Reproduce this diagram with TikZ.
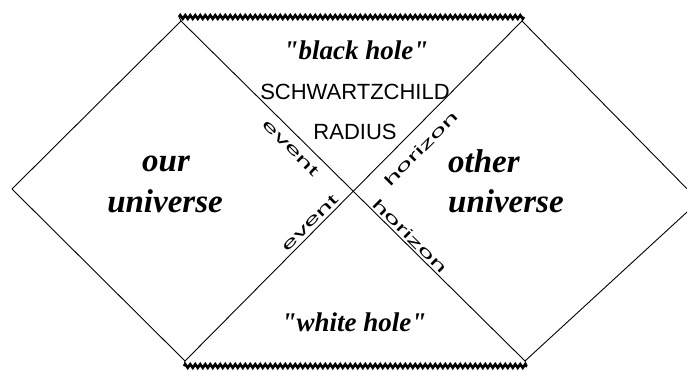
\documentclass[tikz,border=0pt]{standalone}
\usepackage{fontspec}
\setmainfont{Liberation Serif}[Ligatures=TeXOff]
\setsansfont{Liberation Sans}
\usetikzlibrary{decorations.pathmorphing}
\begin{document}
\begin{tikzpicture}[x=1pt,y=-1pt,
  edge/.style={line width=0.9pt},
  singular/.style={line width=2.6pt, decorate, decoration={zigzag,segment length=5pt,amplitude=1.8pt}},
  holelabel/.style={font=\fontsize{27}{27}\selectfont\bfseries\itshape, anchor=base, inner sep=0pt},
  regionlabel/.style={font=\fontsize{33}{33}\selectfont\bfseries\itshape, inner sep=0pt},
  capslabel/.style={font=\sffamily\fontsize{22}{22}\selectfont, anchor=base, inner sep=0pt},
  diaglabel/.style={font=\sffamily\fontsize{15}{15}\selectfont, inner sep=0pt}
]
\useasboundingbox (0,0) rectangle (687,371);
\clip (0,0) rectangle (687,371);
% corners
\coordinate (L) at (12,189);
\coordinate (TL) at (181,21);
\coordinate (TR) at (522,21);
\coordinate (R) at (699,201);
\coordinate (BL) at (185,361);
\coordinate (BR) at (525,361);
\coordinate (ZTL) at (179,17);
\coordinate (ZTR) at (524,17);
\coordinate (ZBL) at (184,366);
\coordinate (ZBR) at (527,366);
% edges
\draw[edge] (L) -- (TL);
\draw[edge] (L) -- (BL);
\draw[edge] (TL) -- (BR);
\draw[edge] (TR) -- (BL);
\draw[edge] (TR) -- (R);
\draw[edge] (BR) -- (R);
\draw[edge] (TL) -- (ZTL);
\draw[edge] (TR) -- (ZTR);
\draw[edge] (BL) -- (ZBL);
\draw[edge] (BR) -- (ZBR);
% singularities
\draw[singular] (ZTL) -- (ZTR);
\draw[singular] (ZBL) -- (ZBR);
% labels
\node[holelabel] (bh) at (356,60) {"black hole"};
\node[capslabel] (sch) at (355,100) {SCHWARTZCHILD};
\node[capslabel] (rad) at (355,140) {RADIUS};
\node[holelabel] (wh) at (354,331) {"white hole"};
\node[regionlabel, anchor=base] (our) at (166,172) {our};
\node[regionlabel, anchor=base] (ouru) at (165,213) {universe};
\node[regionlabel, anchor=base west] (oth) at (448,173) {other};
\node[regionlabel, anchor=base west] (othu) at (448,212) {universe};
\node[diaglabel, rotate=-45] (ev1) at (291,148) {\scalebox{2}[1]{event}};
\node[diaglabel, rotate=45] (ho1) at (421,149) {\scalebox{2}[1]{horizon}};
\node[diaglabel, rotate=45] (ev2) at (310,223) {\scalebox{2}[1]{event}};
\node[diaglabel, rotate=-45] (ho2) at (410,236) {\scalebox{2}[1]{horizon}};
\end{tikzpicture}
\end{document}
